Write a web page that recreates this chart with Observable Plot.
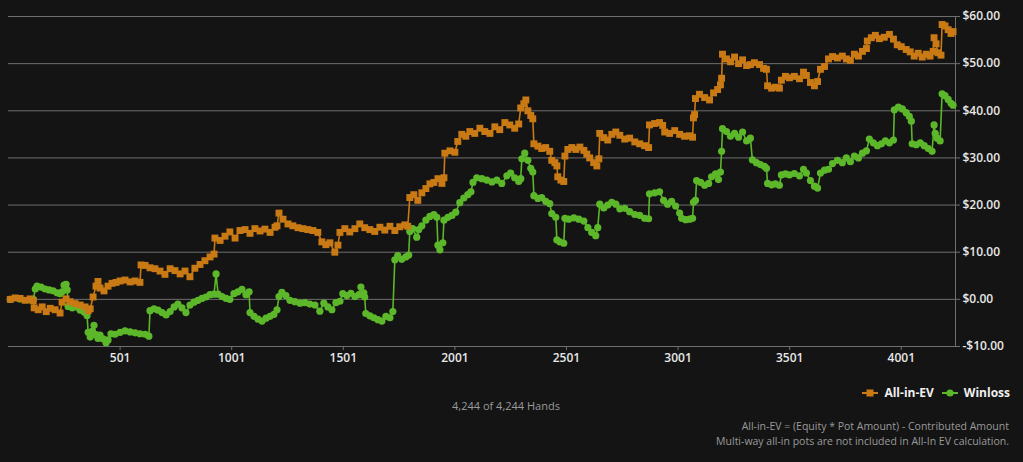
<!DOCTYPE html>
<html>
<head>
<meta charset="utf-8">
<script src="https://cdn.jsdelivr.net/npm/d3@7"></script>
<script src="https://cdn.jsdelivr.net/npm/@observablehq/plot@0.6"></script>
<style>
  html, body { margin: 0; padding: 0; background: #141414; }
  body { width: 1023px; height: 462px; position: relative; overflow: hidden; font-family: "Open Sans", sans-serif; }
  #chart { position: absolute; left: 0; top: 0; }
  .legend { position: absolute; top: 384px; right: 13px; display: flex; align-items: center; gap: 8px; color: #f0f0f0; font-weight: 700; font-size: 12px; }
  .legend .item { display: flex; align-items: center; gap: 6px; }
  .legend svg { display: block; }
  .hands { position: absolute; top: 398px; left: 0; width: 1012px; text-align: center; color: #9a9a9a; font-size: 11px; }
  .note { position: absolute; right: 14px; color: #9a9a9a; font-size: 10.5px; text-align: right; line-height: 15px; top: 419px; }
</style>
</head>
<body>
<div id="chart"></div>
<div class="legend">
  <div class="item"><svg width="16" height="10"><line x1="0" y1="5" x2="16" y2="5" stroke="#c97a14" stroke-width="2"/><rect x="4.5" y="1.5" width="7" height="7" fill="#c97a14"/></svg><span>All-in-EV</span></div>
  <div class="item"><svg width="16" height="10"><line x1="0" y1="5" x2="16" y2="5" stroke="#5cb82a" stroke-width="2"/><circle cx="8" cy="5" r="3.6" fill="#5cb82a"/></svg><span>Winloss</span></div>
</div>
<div class="hands">4,244 of 4,244 Hands</div>
<div class="note">All-in-EV = (Equity * Pot Amount) - Contributed Amount<br>Multi-way all-in pots are not included in All-In EV calculation.</div>
<script>
// Hand numbers and values
const evHands = [9,31,53,76,98,112,116,134,152,170,188,210,232,241,259,277,299,322,344,358,367,380,393,402,411,429,447,465,483,501,523,546,568,590,595,613,635,657,680,702,725,747,770,792,814,836,859,881,904,922,926,949,971,993,1016,1038,1061,1083,1105,1128,1150,1173,1195,1204,1213,1231,1253,1275,1298,1320,1342,1365,1387,1405,1423,1441,1463,1477,1486,1508,1530,1553,1575,1597,1620,1642,1665,1687,1710,1732,1754,1777,1790,1799,1817,1835,1853,1871,1889,1907,1925,1943,1952,1956,1979,2001,2014,2032,2050,2068,2090,2113,2135,2158,2180,2202,2225,2247,2269,2287,2296,2310,2319,2328,2341,2350,2355,2373,2390,2408,2426,2435,2449,2458,2462,2476,2489,2494,2507,2525,2543,2561,2579,2592,2605,2623,2637,2646,2650,2668,2686,2704,2722,2740,2762,2784,2807,2829,2851,2869,2873,2896,2918,2932,2941,2963,2986,3008,3030,3053,3066,3070,3075,3079,3097,3120,3142,3160,3178,3191,3196,3200,3218,3236,3254,3272,3290,3308,3325,3343,3366,3384,3397,3402,3420,3437,3455,3464,3482,3500,3522,3545,3563,3576,3594,3612,3626,3639,3657,3675,3693,3715,3737,3755,3773,3791,3809,3827,3845,3849,3867,3885,3903,3925,3948,3966,3983,4001,4023,4041,4059,4077,4095,4113,4130,4144,4148,4157,4166,4179,4184,4197,4211,4224,4233];
const evValues = [0.0,0.3,0.2,-0.2,0.1,-0.3,-1.8,-2.2,-1.6,-2.6,-1.9,-2.2,-2.9,-0.6,0.1,-0.5,-0.9,-1.2,-1.6,-2.4,-2.0,0.5,2.8,3.8,2.4,1.8,2.8,3.4,3.6,3.9,4.1,3.7,3.9,3.6,7.3,7.2,6.7,6.5,6.0,5.3,6.5,6.1,5.4,6.0,4.8,6.6,7.4,8.2,9.0,9.6,13.0,12.5,13.4,14.3,13.0,14.6,14.8,14.0,15.0,14.5,14.9,14.2,15.3,15.6,18.3,17.0,16.0,15.6,15.2,15.0,14.8,14.6,14.2,12.2,11.6,12.0,10.0,11.5,14.2,15.0,14.3,15.0,16.0,15.2,14.8,14.4,15.3,14.7,15.5,14.6,15.4,15.8,15.5,21.6,22.2,21.0,22.6,23.5,24.5,24.8,25.6,24.6,25.8,31.0,31.5,31.2,33.5,35.0,34.6,35.6,35.2,36.3,35.6,35.2,36.6,36.0,37.5,37.0,36.3,37.2,40.6,41.5,42.3,40.0,39.0,38.3,33.0,32.5,32.0,32.2,31.4,29.5,29.0,28.3,26.0,25.3,25.0,30.4,31.8,32.2,31.8,32.3,31.6,30.8,30.0,29.0,28.3,29.8,35.2,34.3,33.8,35.0,35.5,34.8,34.0,34.2,33.4,33.0,32.6,32.2,37.0,37.3,37.5,36.9,35.5,35.2,35.8,35.0,34.6,34.7,34.4,38.5,39.2,42.6,43.5,42.8,42.3,43.8,44.5,45.5,46.9,52.0,51.0,50.4,51.4,50.0,50.8,49.6,49.8,50.2,49.8,49.0,48.8,45.3,44.8,45.0,44.8,46.5,47.3,47.0,47.3,46.8,48.2,47.5,46.0,45.3,46.2,48.8,49.4,51.0,51.5,51.2,51.6,51.0,50.7,52.0,51.6,52.6,53.2,54.8,55.5,56.0,55.3,55.6,56.2,55.2,54.0,53.6,53.0,52.5,51.6,52.2,51.4,52.0,51.6,52.6,55.5,54.2,52.3,51.8,58.3,58.0,57.2,56.4,56.8];

const wlHands = [9,53,98,112,121,129,147,165,183,201,219,232,241,250,259,264,268,286,304,322,340,353,358,367,376,384,393,402,411,425,438,447,460,478,501,523,546,568,590,613,630,635,653,671,689,707,725,743,760,778,796,814,832,850,868,886,904,922,931,940,958,976,993,1011,1029,1047,1065,1079,1083,1101,1119,1137,1155,1173,1190,1204,1213,1226,1244,1262,1284,1307,1329,1351,1374,1396,1414,1432,1450,1468,1486,1499,1517,1535,1553,1571,1580,1593,1597,1602,1620,1638,1656,1674,1692,1710,1723,1732,1745,1763,1781,1794,1799,1812,1830,1839,1853,1871,1889,1907,1920,1925,1934,1947,1952,1970,1988,2005,2023,2041,2059,2073,2082,2099,2122,2144,2167,2189,2211,2234,2251,2269,2287,2296,2301,2314,2328,2341,2350,2355,2373,2390,2408,2426,2435,2453,2458,2471,2489,2494,2511,2534,2556,2579,2597,2614,2632,2641,2650,2668,2686,2704,2722,2740,2762,2784,2807,2829,2851,2869,2873,2896,2918,2936,2954,2972,2990,3008,3017,3035,3053,3066,3070,3079,3084,3102,3120,3138,3151,3169,3182,3191,3196,3200,3218,3236,3254,3272,3290,3308,3325,3334,3352,3370,3388,3397,3402,3420,3437,3455,3464,3482,3500,3522,3545,3563,3576,3594,3612,3626,3639,3657,3675,3693,3715,3737,3755,3773,3791,3809,3827,3845,3858,3876,3894,3912,3930,3948,3966,3970,3988,4006,4023,4037,4046,4050,4068,4086,4104,4122,4139,4148,4153,4162,4175,4184,4197,4211,4224,4233];
const wlValues = [0.0,0.1,-0.1,0.0,2.2,2.8,2.6,2.2,2.0,1.8,1.4,1.2,1.6,3.0,3.2,2.0,-1.5,-1.8,-1.6,-2.3,-2.7,-3.4,-7.0,-8.0,-6.8,-5.5,-7.5,-8.3,-7.6,-8.4,-9.2,-8.6,-7.3,-7.4,-7.0,-6.7,-6.9,-7.1,-7.3,-7.4,-7.8,-2.4,-2.0,-2.3,-2.8,-3.3,-2.6,-1.6,-1.0,-1.8,-2.8,-1.2,-0.6,-0.2,0.2,0.5,1.0,1.1,5.4,1.1,0.6,0.2,0.0,1.2,1.6,2.1,1.0,1.6,-2.8,-3.6,-4.2,-4.6,-4.0,-3.6,-3.2,-2.2,0.6,1.5,0.8,-0.2,-0.5,-0.8,-0.7,-1.0,-1.2,-2.5,-0.8,-1.6,-2.2,-0.7,-0.4,1.2,0.8,1.3,0.6,1.0,2.6,1.4,0.5,-3.0,-3.5,-3.9,-4.3,-4.6,-3.6,-3.9,-2.6,8.4,9.3,8.5,9.0,9.4,14.4,15.0,13.2,14.8,15.6,16.8,17.6,18.0,17.4,11.5,10.5,12.0,16.8,17.4,17.8,18.5,20.5,21.5,22.2,22.8,24.8,25.8,25.6,25.3,24.9,25.3,24.6,26.2,26.8,25.8,25.0,25.6,29.8,31.0,29.5,27.8,27.0,22.0,21.4,21.6,20.8,20.3,18.2,17.4,12.6,12.2,11.9,17.2,17.0,17.3,17.0,16.6,15.2,14.2,13.5,15.2,20.2,19.4,20.0,20.6,20.2,19.2,19.3,18.6,18.0,17.8,17.2,17.1,22.4,22.6,22.8,21.0,20.2,20.8,19.8,18.3,17.2,16.9,17.0,17.2,20.6,21.0,25.2,24.8,24.2,24.6,26.0,26.6,25.4,27.0,31.4,36.2,35.6,34.6,35.2,34.4,35.5,33.6,34.2,29.6,29.0,28.6,28.2,27.8,24.6,24.3,24.5,24.2,26.4,26.6,26.4,26.7,26.2,27.6,26.8,25.2,24.0,23.6,26.8,27.4,27.6,28.8,29.5,29.0,30.0,29.2,30.4,30.0,31.0,31.5,34.0,33.2,32.6,33.0,33.6,33.2,33.8,40.2,40.8,40.4,39.6,38.8,37.8,33.0,32.8,33.2,32.6,32.0,31.4,37.0,35.2,34.2,33.6,43.6,43.2,42.4,41.6,41.2];

const xTicks = [501, 1001, 1501, 2001, 2501, 3001, 3501, 4001];
const yTicks = [-10, 0, 10, 20, 30, 40, 50, 60];
const xDomain = [1, 4244];
const yDomain = [-10, 60];

const ev = evHands.map((h, i) => ({hand: h, value: evValues[i]}));
const wl = wlHands.map((h, i) => ({hand: h, value: wlValues[i]}));

const EV_COLOR = "#c97a14";
const WL_COLOR = "#5cb82a";

const fmt = d => (d < 0 ? "-" : "") + "$" + Math.abs(d).toFixed(2);

const chart = Plot.plot({
  width: 1023,
  height: 372,
  marginLeft: 8,
  marginRight: 68,
  marginTop: 16,
  marginBottom: 26,
  style: {background: "transparent", color: "#e8e8e8", fontFamily: "Open Sans, sans-serif", fontSize: "12px", fontWeight: 600},
  x: {domain: xDomain, label: null},
  y: {domain: yDomain, label: null},
  marks: [
    Plot.gridY(yTicks, {stroke: "#6f6f6f", strokeOpacity: 1, strokeWidth: 1}),
    Plot.frame({anchor: "right", stroke: "#6f6f6f"}),
    Plot.axisX({ticks: xTicks, tickFormat: d => String(d), tickSize: 4, tickPadding: 3, stroke: "#6f6f6f", fill: "#e8e8e8", label: null}),
    Plot.axisY({anchor: "right", ticks: yTicks, tickFormat: fmt, tickSize: 4, tickPadding: 3, stroke: "#6f6f6f", fill: "#e8e8e8", label: null}),
    Plot.line(wl, {x: "hand", y: "value", stroke: WL_COLOR, strokeWidth: 1.6}),
    Plot.dot(wl, {x: "hand", y: "value", fill: WL_COLOR, r: 3.6, symbol: "circle"}),
    Plot.line(ev, {x: "hand", y: "value", stroke: EV_COLOR, strokeWidth: 1.6}),
    Plot.dot(ev, {x: "hand", y: "value", fill: EV_COLOR, r: 3.9, symbol: "square"})
  ]
});
document.getElementById("chart").appendChild(chart);
</script>
</body>
</html>
